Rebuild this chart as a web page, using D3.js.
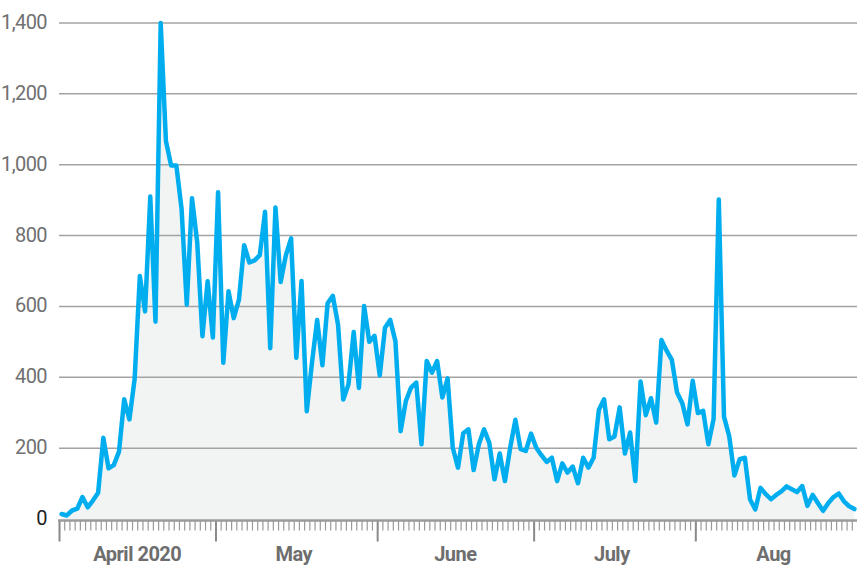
<!DOCTYPE html>
<html>
<head>
<meta charset="utf-8">
<script src="https://cdn.jsdelivr.net/npm/d3@7"></script>
<style>
  body { margin: 0; background: #fff; }
  svg { display: block; }
  .lbl { font-family: "Roboto", "Liberation Sans", sans-serif; }
</style>
</head>
<body>
<div id="chart"></div>
<script>
// daily values, one per day starting at startDate
const startDate = "2020-04-01";
const values = [
  14, 10, 24, 29, 62, 33, 52, 74, 229, 143, 152, 190, 338, 281, 395, 686, 586, 910, 557, 1400,
  1067, 998, 998, 876, 605, 905, 781, 516, 671, 512, 922, 441, 643, 567, 619, 773, 724,
  730, 745, 867, 482, 879, 669, 745, 792, 455, 672, 304, 441, 562, 434, 609, 630, 549, 337,
  380, 528, 370, 601, 500, 517, 405, 540, 562, 502,
  248, 333, 371, 385, 211, 446, 413, 446, 343, 397, 201, 145, 242, 253, 138, 211, 253, 215,
  112, 185, 107, 201, 280, 197, 192, 241, 201, 180,
  161, 173, 107, 157, 131, 148, 101,
  173, 145, 173, 308, 338, 225, 233, 315, 185, 244, 107, 388, 293, 341, 272, 505, 475, 449,
  357, 327, 267, 390, 299, 305, 211, 282, 902, 289, 234, 123, 169, 173, 55, 27,
  88, 70, 56, 68, 78, 92, 84, 76, 93, 37, 68, 45, 23, 45, 62, 72, 50, 36, 28
];
const yTicks = [0, 200, 400, 600, 800, 1000, 1200, 1400];
const monthLabels = ["April 2020", "May", "June", "July", "Aug"];

const width = 857;
const height = 567;
const margin = {top: 23, right: 0, bottom: 48, left: 59};

const t0 = d3.timeParse("%Y-%m-%d")(startDate);
const tEnd = d3.timeMonth.offset(t0, 5);

// points sit at midday of each date
const data = values.map((v, i) => ({
  date: d3.timeHour.offset(d3.timeDay.offset(t0, i), 12),
  value: v
}));

const x = d3.scaleTime()
    .domain([t0, tEnd])
    .range([margin.left, width - margin.right]);

const y = d3.scaleLinear()
    .domain([0, 1400])
    .range([height - margin.bottom, margin.top]);

const svg = d3.select("#chart")
  .append("svg")
    .attr("width", width)
    .attr("height", height);

// shaded area under the line
svg.append("path")
    .datum(data)
    .attr("fill", "#f2f3f3")
    .attr("d", d3.area()
      .x(d => x(d.date))
      .y0(y(0))
      .y1(d => y(d.value)));

// gridlines
svg.append("g")
  .selectAll("line")
  .data(yTicks.filter(d => d > 0))
  .join("line")
    .attr("x1", margin.left)
    .attr("x2", width)
    .attr("y1", d => y(d))
    .attr("y2", d => y(d))
    .attr("stroke", "#a3a3a3")
    .attr("stroke-width", 1.5);

// y labels
svg.append("g")
  .selectAll("text")
  .data(yTicks)
  .join("text")
    .attr("class", "lbl")
    .attr("x", 47)
    .attr("y", d => y(d))
    .attr("dy", "0.3em")
    .attr("text-anchor", "end")
    .attr("font-size", 20)
    .attr("letter-spacing", -0.6)
    .attr("fill", d => d === 0 ? "#222" : "#707070")
    .text(d => d3.format(",")(d));

// x axis: daily minor ticks, monthly major ticks
const axisY = y(0) + 1.5;

const minor = svg.append("g")
    .attr("transform", `translate(0,${axisY})`)
    .call(d3.axisBottom(x)
      .tickValues(d3.timeDay.range(t0, tEnd))
      .tickSize(10)
      .tickFormat(""));
minor.select(".domain").remove();
minor.selectAll(".tick line").attr("stroke", "#9a9a9a").attr("stroke-width", 1.2);

const major = svg.append("g")
    .attr("transform", `translate(0,${axisY})`)
    .call(d3.axisBottom(x)
      .tickValues(d3.timeMonth.range(t0, tEnd))
      .tickSize(21)
      .tickFormat(""));
major.select(".domain").remove();
major.selectAll(".tick line").attr("stroke", "#8a8a8a").attr("stroke-width", 2);

svg.append("line")
    .attr("x1", margin.left - 1)
    .attr("x2", width)
    .attr("y1", axisY)
    .attr("y2", axisY)
    .attr("stroke", "#9a9a9a")
    .attr("stroke-width", 2.5);

// month labels
svg.append("g")
  .selectAll("text")
  .data(d3.timeMonth.range(t0, tEnd))
  .join("text")
    .attr("class", "lbl")
    .attr("x", d => x(d3.timeDay.offset(d, 15)))
    .attr("y", 561)
    .attr("text-anchor", "middle")
    .attr("font-size", 20)
    .attr("font-weight", "bold")
    .attr("letter-spacing", -0.5)
    .attr("fill", "#6e6e6e")
    .text((d, i) => monthLabels[i]);

// the line
svg.append("path")
    .datum(data)
    .attr("fill", "none")
    .attr("stroke", "#00aeef")
    .attr("stroke-width", 4.5)
    .attr("stroke-linejoin", "round")
    .attr("stroke-linecap", "round")
    .attr("d", d3.line()
      .x(d => x(d.date))
      .y(d => y(d.value)));
</script>
</body>
</html>
